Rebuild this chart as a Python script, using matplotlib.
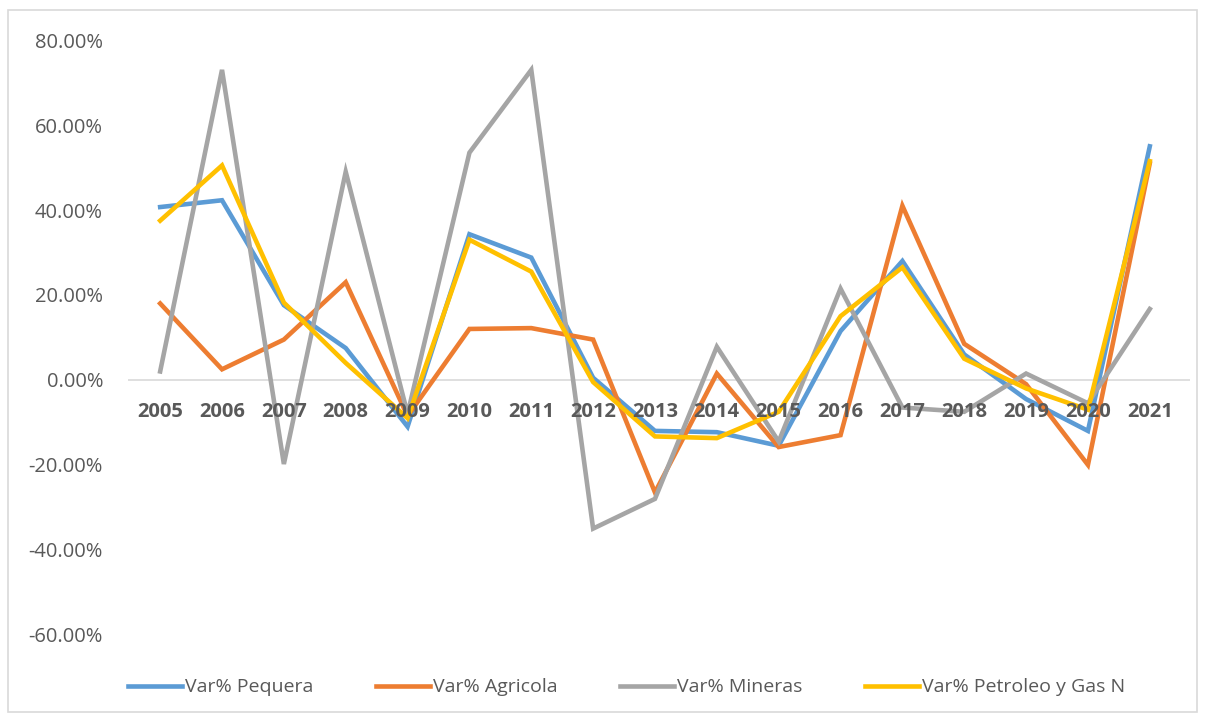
import numpy as np
import matplotlib.pyplot as plt
from matplotlib.patches import Rectangle
from matplotlib.ticker import FuncFormatter

years = [str(y) for y in range(2005, 2022)]

pequera = [40.7, 42.3, 17.6, 7.5, -11.0, 34.3, 28.8, 0.5, -12.0, -12.3, -15.5, 11.5, 28.0, 6.0, -4.5, -12.0, 55.0]
agricola = [18.0, 2.5, 9.5, 23.0, -8.5, 12.0, 12.2, 9.5, -26.5, 1.5, -15.8, -13.0, 41.0, 8.5, -1.0, -20.0, 51.0]
mineras = [2.0, 73.0, -19.8, 49.0, -8.0, 53.5, 73.0, -35.0, -28.0, 7.8, -14.5, 21.5, -6.5, -7.5, 1.5, -5.5, 16.7]
petroleo = [37.5, 50.5, 18.2, 4.0, -9.0, 33.0, 25.5, -0.5, -13.3, -13.7, -7.5, 15.0, 26.5, 5.0, -2.0, -7.0, 51.5]

series = [
    ("Var% Pequera", pequera, "#5B9BD5"),
    ("Var% Agricola", agricola, "#ED7D31"),
    ("Var% Mineras", mineras, "#A5A5A5"),
    ("Var% Petroleo y Gas N", petroleo, "#FFC000"),
]

plt.rcParams['font.family'] = ['Open Sans', 'DejaVu Sans']

fig = plt.figure(figsize=(12.05, 7.19), dpi=100)
ax = fig.add_axes([128/1205, 0.0876, (1190-128)/1205, 0.956-0.0876])

x = np.arange(len(years))
for name, vals, col in series:
    ax.plot(x, np.array(vals) / 100, color=col, lw=3.3, label=name, solid_joinstyle='miter')

ax.set_xlim(-0.52, 16.65)
ax.set_ylim(-0.65, 0.82)
ax.set_yticks(np.arange(-0.6, 0.81, 0.2))
ax.yaxis.set_major_formatter(FuncFormatter(lambda v, p: f"{v*100:.2f}%"))
ax.tick_params(axis='y', length=0, labelsize=14.5, labelcolor='#595959', pad=18)
ax.set_xticks([])
for s in ax.spines.values():
    s.set_visible(False)
ax.axhline(0, color='#D9D9D9', lw=1.2, zorder=0)

for i, yr in enumerate(years):
    ax.text(i, -0.075, yr, ha='center', va='center', fontsize=14.5,
            fontweight='bold', color='#595959')

fig.legend(loc='center', bbox_to_anchor=(0.52, 0.044), ncol=4, frameon=False,
           fontsize=14, labelcolor='#595959', handlelength=2.8, columnspacing=3.2,
           handletextpad=0.15)

fig.patches.append(Rectangle((8/1205, 7/719), 1189/1205, 702/719, transform=fig.transFigure,
                             fill=False, edgecolor='#D9D9D9', lw=1.2))

fig.savefig("out.png", dpi=100)
